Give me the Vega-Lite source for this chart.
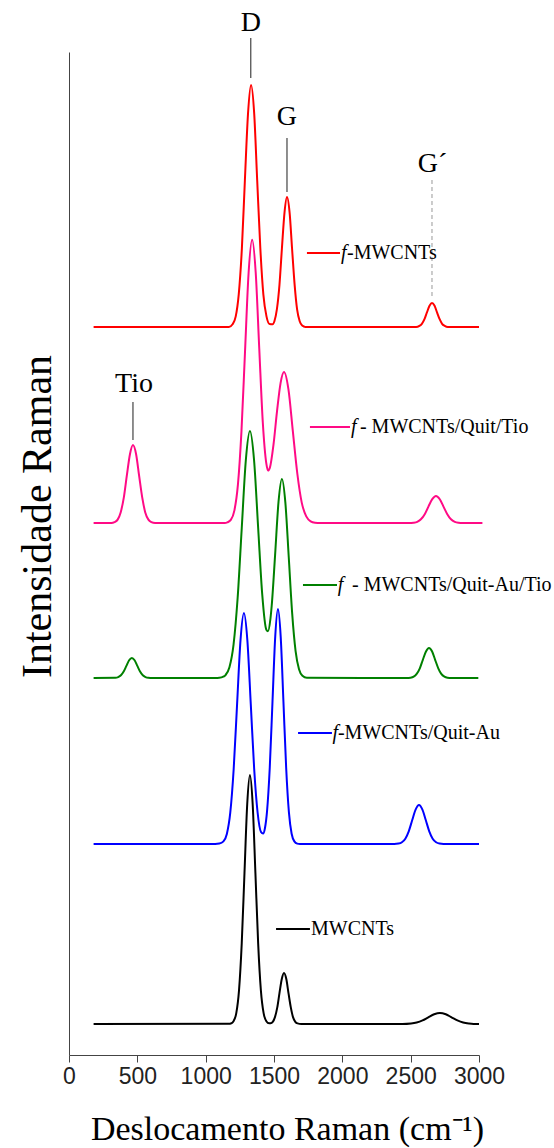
{
  "$schema": "https://vega.github.io/schema/vega-lite/v6.json",
  "width": 410,
  "height": 1003,
  "autosize": {"type": "none"},
  "padding": {"left": 69, "top": 52, "right": 75, "bottom": 93},
  "background": "white",
  "config": {"view": {"stroke": null}},
  "datasets": {
    "curves": [
      {"s":"r","x":180,"y":728},{"s":"r","x":1170,"y":728},{"s":"r","x":1197,"y":730.7},{"s":"r","x":1220,"y":738.6},{"s":"r","x":1242,"y":760.7},{"s":"r","x":1265,"y":806.6},{"s":"r","x":1287,"y":874.8},{"s":"r","x":1310,"y":941.6},{"s":"r","x":1332,"y":970},{"s":"r","x":1355,"y":941.6},{"s":"r","x":1377,"y":874.8},{"s":"r","x":1400,"y":806.6},{"s":"r","x":1422,"y":760.7},{"s":"r","x":1445,"y":738.6},{"s":"r","x":1467,"y":731},{"s":"r","x":1490,"y":730.8},{"s":"r","x":1503,"y":733.8},{"s":"r","x":1521,"y":745.6},{"s":"r","x":1540,"y":770.2},{"s":"r","x":1558,"y":806.8},{"s":"r","x":1577,"y":842.7},{"s":"r","x":1595,"y":858},{"s":"r","x":1614,"y":842.7},{"s":"r","x":1632,"y":806.8},{"s":"r","x":1651,"y":770.2},{"s":"r","x":1669,"y":745.6},{"s":"r","x":1688,"y":733.7},{"s":"r","x":1706,"y":729.4},{"s":"r","x":1730,"y":728},{"s":"r","x":2540,"y":728},{"s":"r","x":2564,"y":729.1},{"s":"r","x":2582,"y":731.2},{"s":"r","x":2601,"y":735.8},{"s":"r","x":2619,"y":742.6},{"s":"r","x":2638,"y":749.2},{"s":"r","x":2656,"y":752},{"s":"r","x":2675,"y":749.2},{"s":"r","x":2693,"y":742.6},{"s":"r","x":2712,"y":735.8},{"s":"r","x":2730,"y":731.2},{"s":"r","x":2749,"y":729.1},{"s":"r","x":2772,"y":728},{"s":"r","x":3000,"y":728},
      {"s":"p","x":180,"y":532},{"s":"p","x":310,"y":532},{"s":"p","x":333,"y":532.9},{"s":"p","x":356,"y":535.4},{"s":"p","x":378,"y":542.6},{"s":"p","x":401,"y":557.3},{"s":"p","x":423,"y":579.3},{"s":"p","x":446,"y":600.8},{"s":"p","x":468,"y":610},{"s":"p","x":491,"y":600.8},{"s":"p","x":513,"y":579.3},{"s":"p","x":536,"y":557.3},{"s":"p","x":558,"y":542.6},{"s":"p","x":581,"y":535.4},{"s":"p","x":603,"y":532.9},{"s":"p","x":630,"y":532},{"s":"p","x":1140,"y":532},{"s":"p","x":1158,"y":532.6},{"s":"p","x":1184,"y":535.1},{"s":"p","x":1210,"y":544.4},{"s":"p","x":1236,"y":570.3},{"s":"p","x":1262,"y":623.9},{"s":"p","x":1288,"y":703.6},{"s":"p","x":1314,"y":781.7},{"s":"p","x":1340,"y":815.2},{"s":"p","x":1366,"y":782.7},{"s":"p","x":1392,"y":706.8},{"s":"p","x":1418,"y":632.7},{"s":"p","x":1444,"y":591.3},{"s":"p","x":1456,"y":584.4},{"s":"p","x":1470,"y":587.4},{"s":"p","x":1496,"y":610},{"s":"p","x":1522,"y":643.6},{"s":"p","x":1548,"y":671.9},{"s":"p","x":1573,"y":683},{"s":"p","x":1606,"y":665.3},{"s":"p","x":1638,"y":623.6},{"s":"p","x":1671,"y":581},{"s":"p","x":1703,"y":552.4},{"s":"p","x":1736,"y":538.6},{"s":"p","x":1768,"y":533.7},{"s":"p","x":1800,"y":532.3},{"s":"p","x":1840,"y":532},{"s":"p","x":2490,"y":532},{"s":"p","x":2520,"y":532.3},{"s":"p","x":2548,"y":533.2},{"s":"p","x":2575,"y":535.7},{"s":"p","x":2603,"y":540.8},{"s":"p","x":2630,"y":548.4},{"s":"p","x":2658,"y":555.8},{"s":"p","x":2685,"y":559},{"s":"p","x":2713,"y":555.8},{"s":"p","x":2740,"y":548.4},{"s":"p","x":2768,"y":540.8},{"s":"p","x":2795,"y":535.7},{"s":"p","x":2823,"y":533.2},{"s":"p","x":2850,"y":532.3},{"s":"p","x":2880,"y":532},{"s":"p","x":3025,"y":532},
      {"s":"g","x":180,"y":377},{"s":"g","x":340,"y":377.2},{"s":"g","x":360,"y":377.9},{"s":"g","x":380,"y":379.7},{"s":"g","x":400,"y":383.5},{"s":"g","x":420,"y":389.1},{"s":"g","x":440,"y":394.7},{"s":"g","x":460,"y":397},{"s":"g","x":480,"y":394.7},{"s":"g","x":500,"y":389.1},{"s":"g","x":520,"y":383.5},{"s":"g","x":540,"y":379.7},{"s":"g","x":560,"y":377.9},{"s":"g","x":580,"y":377.2},{"s":"g","x":610,"y":377},{"s":"g","x":1070,"y":377},{"s":"g","x":1100,"y":377.2},{"s":"g","x":1129,"y":378.3},{"s":"g","x":1144,"y":379.7},{"s":"g","x":1174,"y":387.8},{"s":"g","x":1204,"y":410.4},{"s":"g","x":1234,"y":457.2},{"s":"g","x":1264,"y":526.8},{"s":"g","x":1294,"y":595},{"s":"g","x":1324,"y":624},{"s":"g","x":1354,"y":595},{"s":"g","x":1384,"y":527.3},{"s":"g","x":1414,"y":460.3},{"s":"g","x":1444,"y":425.2},{"s":"g","x":1456,"y":423.8},{"s":"g","x":1474,"y":436.3},{"s":"g","x":1483,"y":449},{"s":"g","x":1508,"y":499.9},{"s":"g","x":1533,"y":553.1},{"s":"g","x":1558,"y":576.1},{"s":"g","x":1583,"y":552.6},{"s":"g","x":1608,"y":497.7},{"s":"g","x":1633,"y":441.6},{"s":"g","x":1658,"y":403.9},{"s":"g","x":1683,"y":385.7},{"s":"g","x":1708,"y":379.2},{"s":"g","x":1740,"y":377.2},{"s":"g","x":2470,"y":377},{"s":"g","x":2499,"y":377.3},{"s":"g","x":2522,"y":378.3},{"s":"g","x":2544,"y":381.1},{"s":"g","x":2567,"y":386.7},{"s":"g","x":2589,"y":395.2},{"s":"g","x":2612,"y":403.5},{"s":"g","x":2634,"y":407},{"s":"g","x":2657,"y":403.5},{"s":"g","x":2679,"y":395.2},{"s":"g","x":2702,"y":386.7},{"s":"g","x":2724,"y":381.1},{"s":"g","x":2747,"y":378.3},{"s":"g","x":2769,"y":377.3},{"s":"g","x":2800,"y":377},{"s":"g","x":2995,"y":377},
      {"s":"b","x":180,"y":211},{"s":"b","x":1070,"y":211},{"s":"b","x":1100,"y":211.4},{"s":"b","x":1130,"y":213.6},{"s":"b","x":1155,"y":221.1},{"s":"b","x":1180,"y":242.3},{"s":"b","x":1205,"y":286},{"s":"b","x":1230,"y":351.1},{"s":"b","x":1255,"y":414.9},{"s":"b","x":1280,"y":442},{"s":"b","x":1305,"y":414.9},{"s":"b","x":1330,"y":351.1},{"s":"b","x":1355,"y":286},{"s":"b","x":1380,"y":242.5},{"s":"b","x":1405,"y":223},{"s":"b","x":1420,"y":221.4},{"s":"b","x":1434,"y":227},{"s":"b","x":1449,"y":243.6},{"s":"b","x":1469,"y":287.5},{"s":"b","x":1489,"y":353.5},{"s":"b","x":1509,"y":418.4},{"s":"b","x":1529,"y":446},{"s":"b","x":1549,"y":418.4},{"s":"b","x":1569,"y":353.5},{"s":"b","x":1589,"y":287.3},{"s":"b","x":1609,"y":242.8},{"s":"b","x":1629,"y":221.3},{"s":"b","x":1649,"y":213.6},{"s":"b","x":1670,"y":211.4},{"s":"b","x":1690,"y":211},{"s":"b","x":2380,"y":211},{"s":"b","x":2411,"y":211.4},{"s":"b","x":2436,"y":212.7},{"s":"b","x":2461,"y":216.3},{"s":"b","x":2486,"y":223.7},{"s":"b","x":2511,"y":234.7},{"s":"b","x":2536,"y":245.4},{"s":"b","x":2561,"y":250},{"s":"b","x":2586,"y":245.4},{"s":"b","x":2611,"y":234.7},{"s":"b","x":2636,"y":223.7},{"s":"b","x":2661,"y":216.3},{"s":"b","x":2686,"y":212.7},{"s":"b","x":2711,"y":211.4},{"s":"b","x":2740,"y":211},{"s":"b","x":3000,"y":211},
      {"s":"k","x":180,"y":31},{"s":"k","x":1170,"y":31.2},{"s":"k","x":1184,"y":31.5},{"s":"k","x":1204,"y":33.8},{"s":"k","x":1224,"y":41.9},{"s":"k","x":1244,"y":64.7},{"s":"k","x":1264,"y":111.9},{"s":"k","x":1284,"y":182},{"s":"k","x":1304,"y":250.7},{"s":"k","x":1324,"y":280},{"s":"k","x":1344,"y":250.7},{"s":"k","x":1364,"y":182},{"s":"k","x":1384,"y":111.9},{"s":"k","x":1404,"y":64.7},{"s":"k","x":1424,"y":41.9},{"s":"k","x":1444,"y":33.8},{"s":"k","x":1464,"y":31.7},{"s":"k","x":1474,"y":31.8},{"s":"k","x":1491,"y":33.2},{"s":"k","x":1507,"y":37.9},{"s":"k","x":1524,"y":47.6},{"s":"k","x":1540,"y":61.9},{"s":"k","x":1557,"y":76},{"s":"k","x":1573,"y":82},{"s":"k","x":1590,"y":76},{"s":"k","x":1606,"y":61.9},{"s":"k","x":1623,"y":47.6},{"s":"k","x":1639,"y":37.9},{"s":"k","x":1656,"y":33.2},{"s":"k","x":1672,"y":31.6},{"s":"k","x":1700,"y":31},{"s":"k","x":2440,"y":31},{"s":"k","x":2503,"y":31.5},{"s":"k","x":2544,"y":32.5},{"s":"k","x":2587,"y":34.6},{"s":"k","x":2629,"y":37.7},{"s":"k","x":2672,"y":40.7},{"s":"k","x":2714,"y":42},{"s":"k","x":2757,"y":40.7},{"s":"k","x":2799,"y":37.7},{"s":"k","x":2842,"y":34.6},{"s":"k","x":2884,"y":32.5},{"s":"k","x":2927,"y":31.5},{"s":"k","x":2960,"y":31.1},{"s":"k","x":3000,"y":31}
    ],
    "peaks": [
      {"label":"D","x":1330,"y":1032},
      {"label":"G","x":1595,"y":938},
      {"label":"G´","x":2660,"y":891},
      {"label":"Tio","x":476,"y":671}
    ],
    "solidLines": [
      {"x":1330,"y":1017,"y2":977},
      {"x":1595,"y":917,"y2":863},
      {"x":468,"y":653,"y2":615}
    ],
    "dashLines": [
      {"x":2656,"y":875,"y2":758}
    ],
    "legend": [
      {"s":"r","x1":1741,"x2":1983,"y":802,"fx":1990,"tx":2034,"label":"-MWCNTs"},
      {"s":"p","x1":1763,"x2":2056,"y":628,"fx":2063,"tx":2129,"label":"- MWCNTs/Quit/Tio"},
      {"s":"g","x1":1712,"x2":1961,"y":470,"fx":1966,"tx":2071,"label":"- MWCNTs/Quit-Au/Tio"},
      {"s":"b","x1":1676,"x2":1924,"y":322,"fx":1928,"tx":1968,"label":"-MWCNTs/Quit-Au"},
      {"s":"k","x1":1515,"x2":1763,"y":126,"fx":null,"tx":1771,"label":"MWCNTs"}
    ]
  },
  "layer": [
    {
      "data": {"name": "curves"},
      "mark": {"type": "line", "interpolate": "monotone", "strokeWidth": 2},
      "encoding": {
        "x": {
          "field": "x", "type": "quantitative",
          "scale": {"domain": [0, 3000], "nice": false},
          "axis": {
            "values": [0,250,500,750,1000,1250,1500,1750,2000,2250,2500,2750,3000],
            "labelExpr": "datum.value % 500 === 0 ? datum.label : ''",
            "format": "d",
            "grid": false,
            "domainColor": "#444",
            "tickColor": "#444",
            "tickSize": {"condition": {"test": "datum.value % 500 !== 0", "value": 4}, "value": 7},
            "labelFont": "Liberation Sans",
            "labelFontSize": 23,
            "labelColor": "#222",
            "labelPadding": 3,
            "labelFlush": false,
            "labelOverlap": false,
            "title": "Deslocamento Raman (cm⁻¹)",
            "titleFont": "Liberation Serif",
            "titleFontSize": 34,
            "titleFontWeight": "normal",
            "titleColor": "#000",
            "titlePadding": 24,
            "titleX": 218
          }
        },
        "y": {
          "field": "y", "type": "quantitative",
          "scale": {"domain": [0, 1003], "nice": false},
          "axis": {
            "ticks": false, "labels": false, "grid": false,
            "domainColor": "#444",
            "title": "Intensidade Raman",
            "titleFont": "Liberation Serif",
            "titleFontSize": 42,
            "titleFontWeight": "normal",
            "titleColor": "#000",
            "titlePadding": 10,
            "titleY": 464
          }
        },
        "color": {
          "field": "s", "type": "nominal",
          "scale": {"domain": ["r","p","g","b","k"], "range": ["#FF0000","#FF0A85","#008000","#0000FF","#000000"]},
          "legend": null
        }
      }
    },
    {
      "data": {"name": "solidLines"},
      "mark": {"type": "rule", "color": "#444", "strokeWidth": 1.2},
      "encoding": {
        "x": {"field": "x", "type": "quantitative"},
        "y": {"field": "y", "type": "quantitative"},
        "y2": {"field": "y2"}
      }
    },
    {
      "data": {"name": "dashLines"},
      "mark": {"type": "rule", "color": "#aaaaaa", "strokeWidth": 1.2, "strokeDash": [4, 3]},
      "encoding": {
        "x": {"field": "x", "type": "quantitative"},
        "y": {"field": "y", "type": "quantitative"},
        "y2": {"field": "y2"}
      }
    },
    {
      "data": {"name": "peaks"},
      "mark": {"type": "text", "font": "Liberation Serif", "fontSize": 28, "align": "center", "baseline": "middle", "color": "#000"},
      "encoding": {
        "x": {"field": "x", "type": "quantitative"},
        "y": {"field": "y", "type": "quantitative"},
        "text": {"field": "label"}
      }
    },
    {
      "data": {"name": "legend"},
      "mark": {"type": "rule", "strokeWidth": 2},
      "encoding": {
        "x": {"field": "x1", "type": "quantitative"},
        "x2": {"field": "x2"},
        "y": {"field": "y", "type": "quantitative"},
        "color": {"field": "s", "type": "nominal", "legend": null}
      }
    },
    {
      "data": {"name": "legend"},
      "transform": [{"filter": "datum.fx != null"}],
      "mark": {"type": "text", "text": "f", "font": "Liberation Serif", "fontSize": 20, "fontStyle": "italic", "align": "left", "baseline": "middle", "color": "#000"},
      "encoding": {
        "x": {"field": "fx", "type": "quantitative"},
        "y": {"field": "y", "type": "quantitative"}
      }
    },
    {
      "data": {"name": "legend"},
      "mark": {"type": "text", "font": "Liberation Serif", "fontSize": 20, "align": "left", "baseline": "middle", "color": "#000"},
      "encoding": {
        "x": {"field": "tx", "type": "quantitative"},
        "y": {"field": "y", "type": "quantitative"},
        "text": {"field": "label"}
      }
    }
  ]
}
